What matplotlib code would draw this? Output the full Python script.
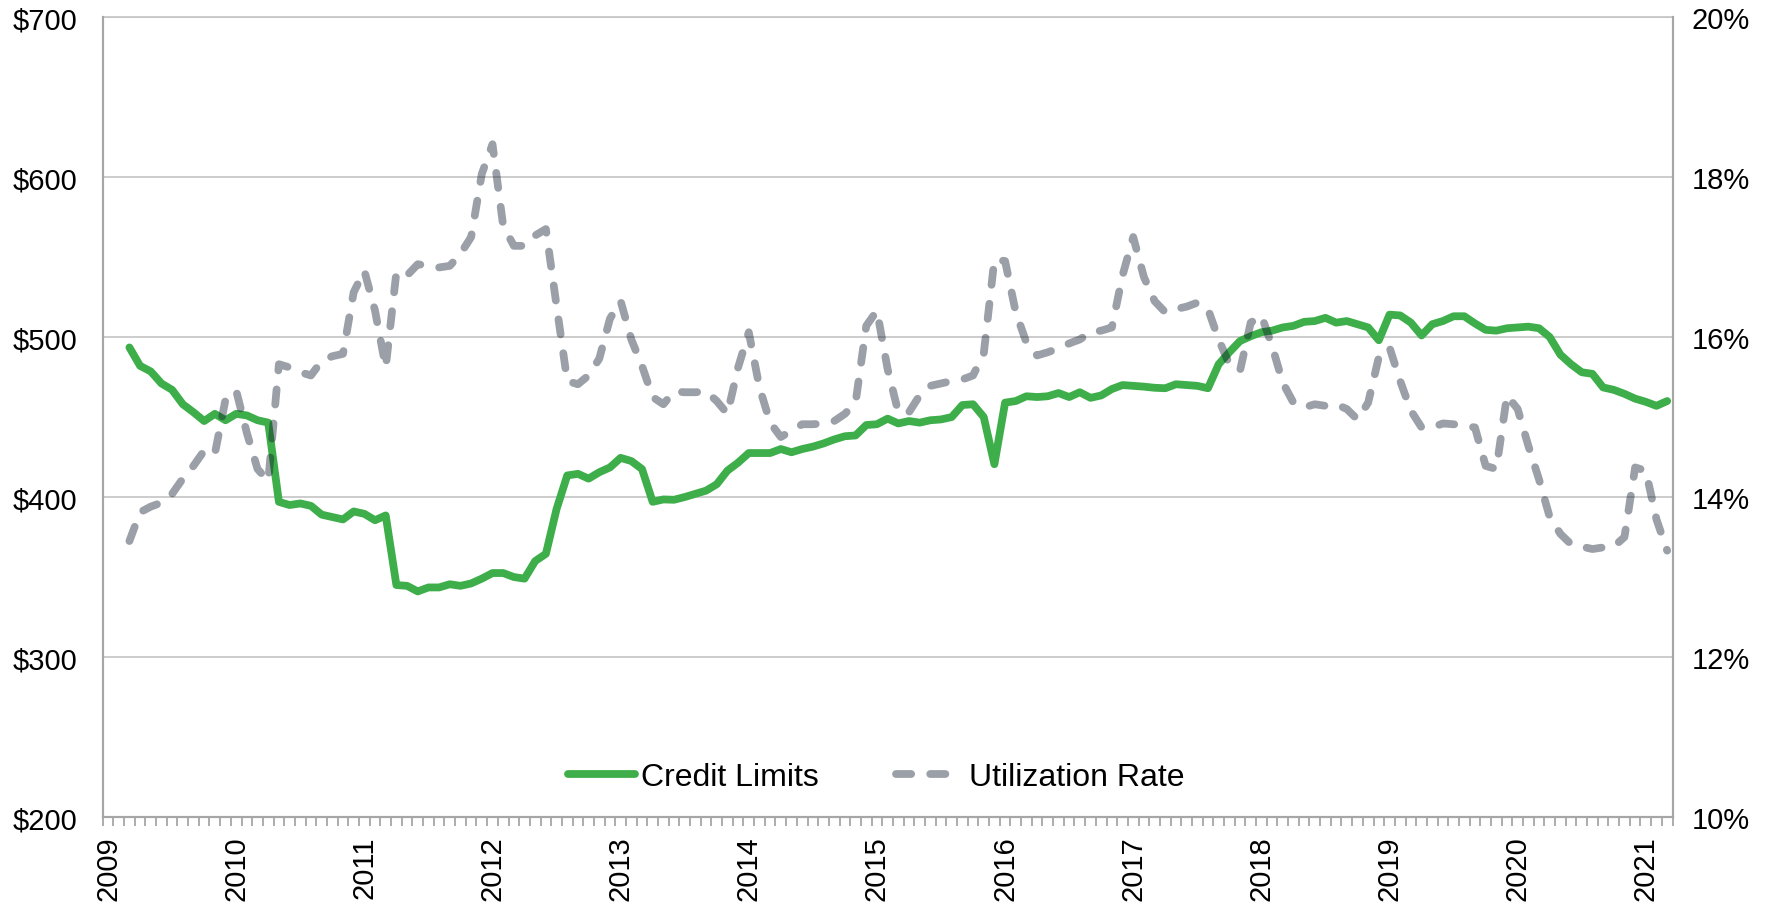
import matplotlib
matplotlib.use("Agg")
import matplotlib.pyplot as plt
import numpy as np
import pandas as pd
from matplotlib.ticker import FuncFormatter

plt.rcParams['font.family'] = ['Liberation Sans', 'DejaVu Sans']

# Monthly observations, March 2009 .. March 2021
months = pd.date_range('2009-03-01', '2021-03-01', freq='MS')

credit_limits = [
    493.5, 482, 478.5, 471, 467, 458, 453, 447.5, 452, 448,                       # 2009 (Mar-Dec)
    452, 451, 448, 446.5, 397, 395, 396, 394.5, 389, 387.5, 386, 391,             # 2010
    389.5, 385.5, 388.5, 345, 344.5, 341, 343.5, 343.5, 345.5, 344.5, 346, 349,   # 2011
    352.5, 352.5, 350, 349, 360, 364.5, 392.5, 413.5, 414.5, 411.5, 415.5, 418.5, # 2012
    424.5, 422.5, 417.5, 397, 398.5, 398.3, 400, 402, 404, 408, 416.5, 421.5,     # 2013
    427.5, 427.5, 427.5, 430, 428, 430, 431.5, 433.5, 436, 438, 438.5, 445,       # 2014
    445.5, 449, 446, 447.5, 446.5, 448, 448.5, 450, 457.5, 458, 450, 420.5,       # 2015
    459, 460, 463, 462.5, 463, 465, 462.5, 465.5, 462, 463.5, 467.5, 470,         # 2016
    469.5, 469, 468.3, 468, 470.5, 470, 469.5, 468, 483, 490.5, 497.5, 500.5,     # 2017
    503, 504, 506, 507, 509.5, 510, 512, 509, 510, 508, 506, 498,                 # 2018
    514, 513.5, 509, 501, 508, 510, 513, 513, 508.5, 504.5, 504, 505.5,           # 2019
    506, 506.5, 505.5, 500, 489, 483, 478, 477, 468.5, 467, 464.5, 461.5,         # 2020
    459.5, 457, 460,                                                              # 2021 (Jan-Mar)
]

utilization_rate = [
    13.45, 13.81, 13.88, 13.93, 14.04, 14.23, 14.39, 14.58, 14.54, 15.22,             # 2009
    15.33, 14.8, 14.35, 14.2, 15.66, 15.62, 15.56, 15.52, 15.7, 15.76, 15.79, 16.56,  # 2010
    16.83, 16.33, 15.62, 16.81, 16.77, 16.91, 16.89, 16.87, 16.89, 17.04, 17.25, 18.04,  # 2011
    18.41, 17.39, 17.14, 17.14, 17.27, 17.35, 16.39, 15.45, 15.41, 15.52, 15.73, 16.23,  # 2012
    16.45, 15.97, 15.64, 15.25, 15.16, 15.32, 15.31, 15.31, 15.32, 15.2, 15.04, 15.62,   # 2013
    16.06, 15.37, 14.93, 14.75, 14.83, 14.91, 14.91, 14.92, 14.95, 15.04, 15.18, 16.14,  # 2014
    16.33, 15.6, 15.06, 15.06, 15.27, 15.39, 15.42, 15.45, 15.47, 15.52, 15.79, 16.97,   # 2015
    16.95, 16.31, 15.93, 15.77, 15.81, 15.86, 15.92, 15.97, 16.06, 16.08, 16.12, 16.77,  # 2016
    17.25, 16.75, 16.45, 16.31, 16.35, 16.38, 16.43, 16.35, 15.97, 15.66, 15.58, 16.18,  # 2017
    16.27, 15.89, 15.43, 15.18, 15.12, 15.16, 15.14, 15.16, 15.1, 14.97, 15.18, 15.75,   # 2018
    15.87, 15.45, 15.08, 14.87, 14.87, 14.92, 14.91, 14.89, 14.87, 14.39, 14.35, 15.27,  # 2019
    15.1, 14.64, 14.22, 13.75, 13.54, 13.41, 13.38, 13.35, 13.37, 13.38, 13.5, 14.37,    # 2020
    14.33, 13.72, 13.33,                                                                 # 2021
]

year_labels = [str(y) for y in range(2009, 2022)]
left_ticks = [200, 300, 400, 500, 600, 700]
right_ticks = [10, 12, 14, 16, 18, 20]

# category position: 0 = Jan 2009
x = np.array([(d.year - 2009) * 12 + d.month - 1 for d in months])

fig = plt.figure(figsize=(17.77, 9.03), dpi=100)
ax = fig.add_axes([0.0578, 0.0941, 0.8834, 0.8859])
ax2 = ax.twinx()

green = '#3DAE4A'
LW = 5.6
ln1, = ax.plot(x, credit_limits, color=green, lw=LW,
               solid_capstyle='round', solid_joinstyle='round',
               label='Credit Limits', zorder=3)
ln2, = ax2.plot(x, utilization_rate, color='#121c2d', alpha=0.42, lw=LW,
                dash_capstyle='round', dash_joinstyle='round',
                label='Utilization Rate', zorder=3)
ln2.set_dashes([1.95, 2.45])

ax.set_xlim(-0.5, 146.5)
ax.set_ylim(200, 700)
ax2.set_ylim(10, 20)

ax.set_yticks(left_ticks)
ax.yaxis.set_major_formatter(FuncFormatter(lambda v, p: f'${v:.0f}'))
ax2.set_yticks(right_ticks)
ax2.yaxis.set_major_formatter(FuncFormatter(lambda v, p: f'{v:.0f}%'))

ax.set_xticks(np.arange(0, 145, 12))
ax.set_xticklabels(year_labels, rotation=90)
ax.set_xticks(np.arange(-0.5, 147, 1), minor=True)

ax.tick_params(axis='x', which='major', length=0, pad=13, labelsize=21)
ax.tick_params(axis='x', which='minor', length=6.5, width=1.3,
               color='#A6A6A6', direction='out')
ax.tick_params(axis='y', length=0, pad=18, labelsize=21)
ax2.tick_params(axis='y', length=0, pad=14, labelsize=21)

ax.yaxis.grid(True, color='#C4C4C4', lw=1.2)
ax.set_axisbelow(True)

for a in (ax, ax2):
    for s in ('left', 'right', 'bottom'):
        a.spines[s].set_color('#A6A6A6')
        a.spines[s].set_linewidth(1.5)
ax.spines['top'].set_color('#C4C4C4')
ax.spines['top'].set_linewidth(1.2)
ax2.spines['top'].set_visible(False)

ax2.legend(handles=[ln1, ln2], loc='center', bbox_to_anchor=(0.4930, 0.1385),
           bbox_transform=fig.transFigure, ncol=2, frameon=False,
           fontsize=23, handlelength=2.1, handletextpad=0.2, columnspacing=2.4)

fig.savefig('out.png', dpi=100)
